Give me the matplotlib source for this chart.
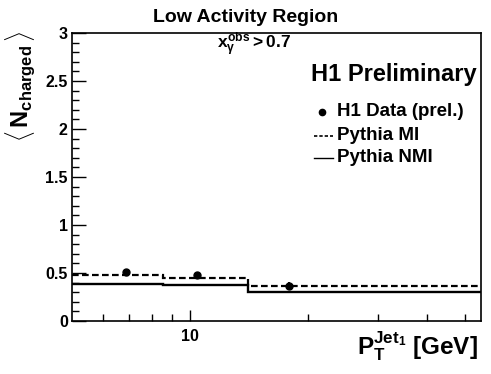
import matplotlib
matplotlib.use("Agg")
import matplotlib.pyplot as plt
from matplotlib.ticker import FixedLocator, NullFormatter, FixedFormatter

plt.rcParams["font.family"] = ["Liberation Sans", "DejaVu Sans"]
plt.rcParams["font.weight"] = "bold"
plt.rcParams["mathtext.fontset"] = "custom"
plt.rcParams["mathtext.rm"] = "Liberation Sans:bold"
plt.rcParams["mathtext.it"] = "Liberation Sans:bold"
plt.rcParams["mathtext.bf"] = "Liberation Sans:bold"

# bins in pT of leading jet
bin_edges = [5.0, 8.5, 14.0, 55.0]
pythia_mi = [0.477, 0.452, 0.367]
pythia_nmi = [0.382, 0.375, 0.302]

data_x = [6.87, 10.4, 17.8]
data_y = [0.507, 0.476, 0.365]
data_err = [0.01, 0.01, 0.045]

fig = plt.figure(figsize=(4.91, 3.74), dpi=100)
ax = fig.add_axes([72 / 491, 53 / 374, 409 / 491, 288 / 374])

ax.stairs(pythia_mi, bin_edges, baseline=None, color="black", lw=1.6,
          linestyle=(0, (3, 1.5)))
ax.stairs(pythia_nmi, bin_edges, baseline=None, color="black", lw=1.7)
ax.errorbar(data_x, data_y, yerr=data_err, fmt="o", color="black",
            markersize=5, elinewidth=1.5, capsize=0)

ax.set_xscale("log")
ax.set_xlim(5, 55)
ax.set_ylim(0, 3)

ax.xaxis.set_major_locator(FixedLocator([10]))
ax.xaxis.set_major_formatter(FixedFormatter(["10"]))
ax.xaxis.set_minor_locator(FixedLocator([6, 7, 8, 9, 20, 30, 40, 50]))
ax.xaxis.set_minor_formatter(NullFormatter())
ax.yaxis.set_major_locator(FixedLocator([0, 0.5, 1, 1.5, 2, 2.5, 3]))
ax.yaxis.set_major_formatter(FixedFormatter(["0", "0.5", "1", "1.5", "2", "2.5", "3"]))
ax.yaxis.set_minor_locator(FixedLocator([i / 10 for i in range(31) if i % 5]))

ax.tick_params(which="both", direction="in", top=False, right=False,
               labelsize=11.5, width=1, color="black")
ax.tick_params(axis="x", which="major", length=8, pad=6)
ax.tick_params(axis="x", which="minor", length=5)
ax.tick_params(axis="y", which="major", length=10, pad=3)
ax.tick_params(axis="y", which="minor", length=5)
for lab in ax.get_xticklabels() + ax.get_yticklabels():
    lab.set_fontweight("bold")
for sp in ax.spines.values():
    sp.set_linewidth(1.2)

fig.text(0.5, 1 - 18 / 374, "Low Activity Region", ha="center", va="center",
         fontsize=14, fontweight="bold")
fig.text(254 / 491, 1 - 45 / 374, r"$x_{\gamma}^{obs} > 0.7$",
         ha="center", va="center", fontsize=12.5)
fig.text(477 / 491, 1 - 74 / 374, "H1 Preliminary", ha="right", va="center",
         fontsize=17, fontweight="bold")

# legend, drawn by hand to match layout
leg_x0, leg_x1, txt_x = 314 / 491, 333 / 491, 337 / 491
rows = [1 - 112 / 374, 1 - 136 / 374, 1 - 158 / 374]
fig.lines.append(plt.Line2D([322 / 491], [rows[0]], marker="o",
                            markersize=4.5, color="black",
                            transform=fig.transFigure))
fig.lines.append(plt.Line2D([leg_x0, leg_x1], [rows[1]] * 2, color="black",
                            lw=1.2, linestyle=(0, (2, 1.2)),
                            transform=fig.transFigure))
fig.lines.append(plt.Line2D([leg_x0, leg_x1], [rows[2]] * 2, color="black",
                            lw=1.0, transform=fig.transFigure))
for y, name in zip(rows, ["H1 Data (prel.)", "Pythia MI", "Pythia NMI"]):
    fig.text(txt_x, y, name, va="center", fontsize=13.5, fontweight="bold")

fig.text(21 / 491, 1 - 86 / 374,
         r"$\langle\,\mathrm{N}_{\mathrm{charged}}\,\rangle$",
         rotation=90, ha="center", va="center", fontsize=17)
fig.text(478 / 491, 1 - 346 / 374, r"$\mathrm{P}_{\mathrm{T}}^{\mathrm{Jet}_{1}}$ [GeV]",
         ha="right", va="center", fontsize=17.5, fontweight="bold")

fig.savefig("out.png", dpi=100)
